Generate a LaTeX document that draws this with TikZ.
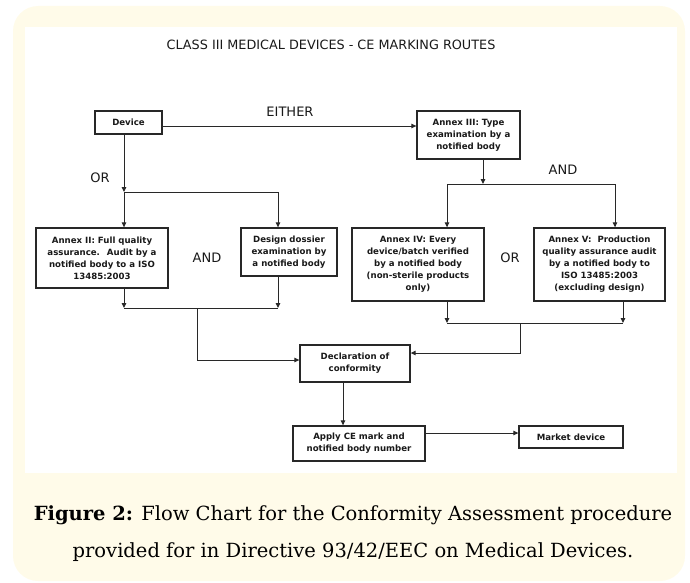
\documentclass[tikz,border=0pt]{standalone}
\usepackage{fontspec}
\setsansfont{DejaVu Sans}
\newfontfamily\capfont{DejaVu Serif}
\usepackage{xcolor}
\definecolor{cebg}{RGB}{255,251,233}
\definecolor{celine}{RGB}{40,40,40}
\definecolor{cetext}{RGB}{25,25,25}
\usetikzlibrary{arrows.meta}

\begin{document}
\begin{tikzpicture}[x=1pt, y=-1pt,
  box/.style={draw=celine, line width=1.3pt, fill=white, inner sep=0pt, align=center,
    text=cetext, font=\sffamily\bfseries\fontsize{8.6}{12}\selectfont},
  arr/.style={draw=celine, line width=1pt, -{Triangle[length=5pt,width=4.5pt]}},
  link/.style={draw=celine, line width=1pt},
  lbl/.style={font=\sffamily\fontsize{13}{15}\selectfont, text=cetext}]

  % --- Background ---
  \useasboundingbox (0,0) rectangle (690,583);
  \fill[cebg, rounded corners=25pt] (13,6) rectangle (685,581);
  \fill[white] (25,27) rectangle (677,473);

  % Title
  \node[font=\sffamily\fontsize{12.8}{15}\selectfont, text=cetext] (title) at (331,45) {CLASS III MEDICAL DEVICES - CE MARKING ROUTES};

  % --- Boxes ---
  \node[box, minimum width=67pt, minimum height=23pt] (dev) at (128.5,122.5) {Device};
  \node[box, minimum width=103pt, minimum height=48pt] (anx3) at (468.5,135) {Annex III: Type\\examination by a\\notified body};
  \node[box, minimum width=132pt, minimum height=60pt] (anx2) at (102,258) {Annex II: Full quality\\assurance.~ Audit by a\\notified body to a ISO\\13485:2003};
  \node[box, minimum width=96pt, minimum height=48pt] (dossier) at (289,252) {Design dossier\\examination by\\a notified body};
  \node[box, minimum width=132pt, minimum height=73pt] (anx4) at (418,264.5) {Annex IV: Every\\device/batch verified\\by a notified body\\(non-sterile products\\only)};
  \node[box, minimum width=131pt, minimum height=73pt] (anx5) at (599.5,264.5) {Annex V:~ Production\\quality assurance audit\\by a notified body to\\ISO 13485:2003\\(excluding design)};
  \node[box, minimum width=110pt, minimum height=37pt] (decl) at (355,363.5) {Declaration of\\conformity};
  \node[box, minimum width=132pt, minimum height=35pt] (apply) at (359,443.5) {Apply CE mark and\\notified body number};
  \node[box, minimum width=104pt, minimum height=22pt] (market) at (571,437) {Market device};

  % --- Labels ---
  \node[lbl] (either) at (290,112) {EITHER};
  \node[lbl] (orA) at (100,178) {OR};
  \node[lbl] (andA) at (207,258) {AND};
  \node[lbl] (andB) at (563,170) {AND};
  \node[lbl] (orB) at (510,258) {OR};

  % --- Either route ---
  \coordinate (e0) at ([yshift=-3.5pt]dev.east);
  \draw[arr] (e0) -- (e0 -| anx3.west);

  % --- Or route (Annex II + design dossier) ---
  \coordinate (orL) at (124,192);
  \coordinate (orR) at (278,192);
  \draw[arr] ([xshift=-4.5pt]dev.south) -- (orL);
  \draw[link] (orL) -- (orR);
  \draw[arr] (orL) -- (orL |- anx2.north);
  \draw[arr] (orR) -- (orR |- dossier.north);
  \coordinate (andL) at (124,308);
  \coordinate (andR) at (278,308);
  \draw[arr] (andL |- anx2.south) -- (andL);
  \draw[arr] (andR |- dossier.south) -- (andR);
  \draw[link] (andL) -- (andR);
  \coordinate (andM) at (197,308);
  \draw[arr] (andM) |- ([yshift=3.5pt]decl.west);

  % --- Annex III route (Annex IV or V) ---
  \coordinate (a3L) at (447,184);
  \coordinate (a3R) at (615,184);
  \draw[arr] ([xshift=14.5pt]anx3.south) -- ([xshift=14.5pt]anx3.south |- a3L);
  \draw[link] (a3L) -- (a3R);
  \draw[arr] (a3L) -- (a3L |- anx4.north);
  \draw[arr] (a3R) -- (a3R |- anx5.north);
  \coordinate (orBL) at (447,323);
  \coordinate (orBR) at (623,323);
  \draw[arr] (orBL |- anx4.south) -- (orBL);
  \draw[arr] (orBR |- anx5.south) -- (orBR);
  \draw[link] (orBL) -- (orBR);
  \coordinate (orBM) at (520,323);
  \draw[arr] (orBM) |- ([yshift=10.5pt]decl.east);

  % --- Final steps ---
  \draw[arr] ([xshift=-12pt]decl.south) -- ([xshift=-12pt]decl.south |- apply.north);
  \coordinate (ap0) at ([yshift=10.5pt]apply.east);
  \draw[arr] (ap0) -- (ap0 -| market.west);

  % Caption
  \node[font=\capfont\fontsize{19.5}{37}\selectfont, align=center, text=black] (caption) at (353,534)
    {\textbf{Figure 2:} Flow Chart for the Conformity Assessment procedure\\provided for in Directive 93/42/EEC on Medical Devices.};
\end{tikzpicture}
\end{document}
